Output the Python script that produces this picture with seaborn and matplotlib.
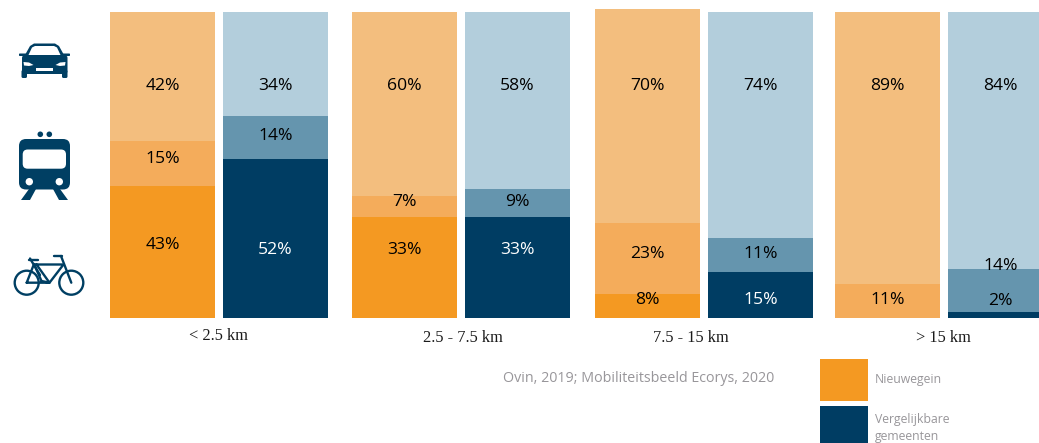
import matplotlib
matplotlib.use("Agg")
import matplotlib.pyplot as plt
from matplotlib.patches import Circle, FancyBboxPatch, Polygon, Rectangle
import numpy as np
import seaborn as sns

# Modal split per trip-distance class (percent of trips)
distance_labels = ["< 2.5 km", "2.5 - 7.5 km", "7.5 - 15 km", "> 15 km"]
nieuwegein_bike = [43, 33, 8, 0]
nieuwegein_train = [15, 7, 23, 11]
nieuwegein_car = [42, 60, 70, 89]
peers_bike = [52, 33, 15, 2]
peers_train = [14, 9, 11, 14]
peers_car = [34, 58, 74, 84]

legend_labels = ["Nieuwegein", "Vergelijkbare\ngemeenten"]
source_text = "Ovin, 2019; Mobiliteitsbeeld Ecorys, 2020"

# Page layout, in pixels of the 1039x443 canvas
W, H = 1039, 443
BAR_W = 105
NW_X = [162.5, 404.5, 647.5, 887.5]
PEER_X = [275.5, 517.5, 760.5, 1000.5]
BASE_Y = 318.0
PX_PER_PCT = 3.06

# Heights of the value labels per stack: car, train, bike
NW_LABEL_Y = [[86, 159, 245], [86, 202, 250], [86, 254, 300], [86, 300, None]]
PEER_LABEL_Y = [[86, 136, 250], [86, 202, 250], [86, 254, 300], [86, 266, 301]]
TICK_X = [218.5, 462.5, 691, 943]
TICK_Y = [335.5, 338.5, 337.5, 337.5]

ORANGE = ["#F49922", "#F4AC5B", "#F3BE7E"]
BLUE = ["#003D63", "#6595AE", "#B3CEDC"]
ICON = "#003F63"
GREY = "#98969A"
SANS = ["Open Sans", "DejaVu Sans"]
SERIF = ["Liberation Serif", "DejaVu Serif"]

sns.set_theme(style="white")
fig = plt.figure(figsize=(W / 100, H / 100), dpi=100)
ax = fig.add_axes([0, 0, 1, 1])


def stack(xs, layers, colors):
    bottom = np.zeros(len(xs))
    rel_width = BAR_W / np.min(np.diff(xs))
    for values, color in zip(layers, colors):
        sns.barplot(x=xs, y=values, native_scale=True, orient="x", color=color,
                    saturation=1, width=rel_width, errorbar=None, bottom=bottom,
                    linewidth=0, ax=ax)
        bottom = bottom + np.array(values)


stack(NW_X, [nieuwegein_bike, nieuwegein_train, nieuwegein_car], ORANGE)
stack(PEER_X, [peers_bike, peers_train, peers_car], BLUE)
ax.set_xlim(0, W)
ax.set_ylim((BASE_Y - H) / PX_PER_PCT, BASE_Y / PX_PER_PCT)
ax.axis("off")

# Overlay in canvas pixels for annotations, icons and the key
ov = fig.add_axes([0, 0, 1, 1], facecolor="none")
ov.set_xlim(0, W)
ov.set_ylim(H, 0)
ov.axis("off")


def value_labels(xs, layers, heights, light_bottom):
    for i, x in enumerate(xs):
        for j, values in enumerate(layers):
            y = heights[i][j]
            if y is None:
                continue
            white = light_bottom and j == 2 and i < 3
            ov.text(x, y, f"{values[i]}%", ha="center", va="center", fontsize=12.6,
                    family=SANS, color="white" if white else "black")


value_labels(NW_X, [nieuwegein_car, nieuwegein_train, nieuwegein_bike], NW_LABEL_Y, False)
value_labels(PEER_X, [peers_car, peers_train, peers_bike], PEER_LABEL_Y, True)

for label, x, y in zip(distance_labels, TICK_X, TICK_Y):
    ov.text(x, y, label, ha="center", va="center", fontsize=11.8, family=SERIF, color="#1a1a1a")

ov.text(503, 379, source_text, ha="left", va="center", fontsize=10.3, family=SANS, color=GREY)

ov.add_patch(Rectangle((820, 359), 48, 42, fc=ORANGE[0], lw=0))
ov.add_patch(Rectangle((820, 406), 48, 40, fc=BLUE[0], lw=0))
ov.text(875, 380, legend_labels[0], ha="left", va="center", fontsize=8.8, family=SANS, color=GREY)
ov.text(875, 428, legend_labels[1], ha="left", va="center", fontsize=8.8, family=SANS, color=GREY,
        linespacing=1.4)


def rounded(x0, y0, x1, y1, r, fc):
    ov.add_patch(FancyBboxPatch((x0 + r, y0 + r), x1 - x0 - 2 * r, y1 - y0 - 2 * r,
                                boxstyle=f"round,pad={r},rounding_size={r}", fc=fc, lw=0))


# Car icon
ov.add_patch(Polygon([(25, 55), (30, 46), (34, 43.5), (55, 43.5), (59, 46), (64, 55)], fc=ICON, lw=0))
ov.add_patch(Polygon([(28.5, 55), (32, 47.5), (35, 46), (54, 46), (57, 47.5), (60.5, 55)], fc="white", lw=0))
rounded(19, 53.5, 27, 56, 0.8, ICON)
rounded(62, 53.5, 70, 56, 0.8, ICON)
rounded(22, 55, 67.5, 74, 3, ICON)
rounded(21.5, 70, 27, 78, 1.5, ICON)
rounded(62, 70, 67.5, 78, 1.5, ICON)
ov.add_patch(Polygon([(23.5, 62), (29, 62.5), (33.5, 65), (29, 66), (24, 65.5)], fc="white", lw=0))
ov.add_patch(Polygon([(65.5, 62), (60, 62.5), (55.5, 65), (60, 66), (65, 65.5)], fc="white", lw=0))
ov.add_patch(Rectangle((36, 67.5), 17, 3, fc="white", lw=0))

# Train icon
for cx in (40.3, 49.3):
    ov.add_patch(Circle((cx, 134.3), 2.8, fc=ICON, lw=0))
rounded(19, 139, 70, 189.5, 7, ICON)
rounded(22.7, 149.5, 66, 168.7, 5, "white")
for cx in (29.3, 59.3):
    ov.add_patch(Circle((cx, 181.7), 3.7, fc="white", lw=0))
ov.add_patch(Polygon([(21, 200), (30, 200), (36, 189), (29, 189)], fc=ICON, lw=0))
ov.add_patch(Polygon([(68, 200), (59, 200), (53, 189), (60, 189)], fc=ICON, lw=0))

# Bicycle icon
for cx in (26.7, 71.3):
    ov.add_patch(Circle((cx, 282.7), 12, fc="none", ec=ICON, lw=1.7))
frame = [
    [(26.7, 282.7), (34, 264), (41.5, 281), (49.5, 282.7), (26.7, 282.7)],
    [(34, 264.5), (63.5, 264.5), (49.5, 282.7), (36.5, 264.5)],
    [(30, 258.5), (40, 275)],
    [(61, 256), (71.3, 282.7)],
    [(54, 256), (61.5, 256)],
    [(28.5, 259.5), (37.5, 259.5)],
]
for path in frame:
    xs, ys = zip(*path)
    ov.plot(xs, ys, color=ICON, lw=1.7, solid_capstyle="round", solid_joinstyle="round")

fig.savefig("out.png", dpi=100)
